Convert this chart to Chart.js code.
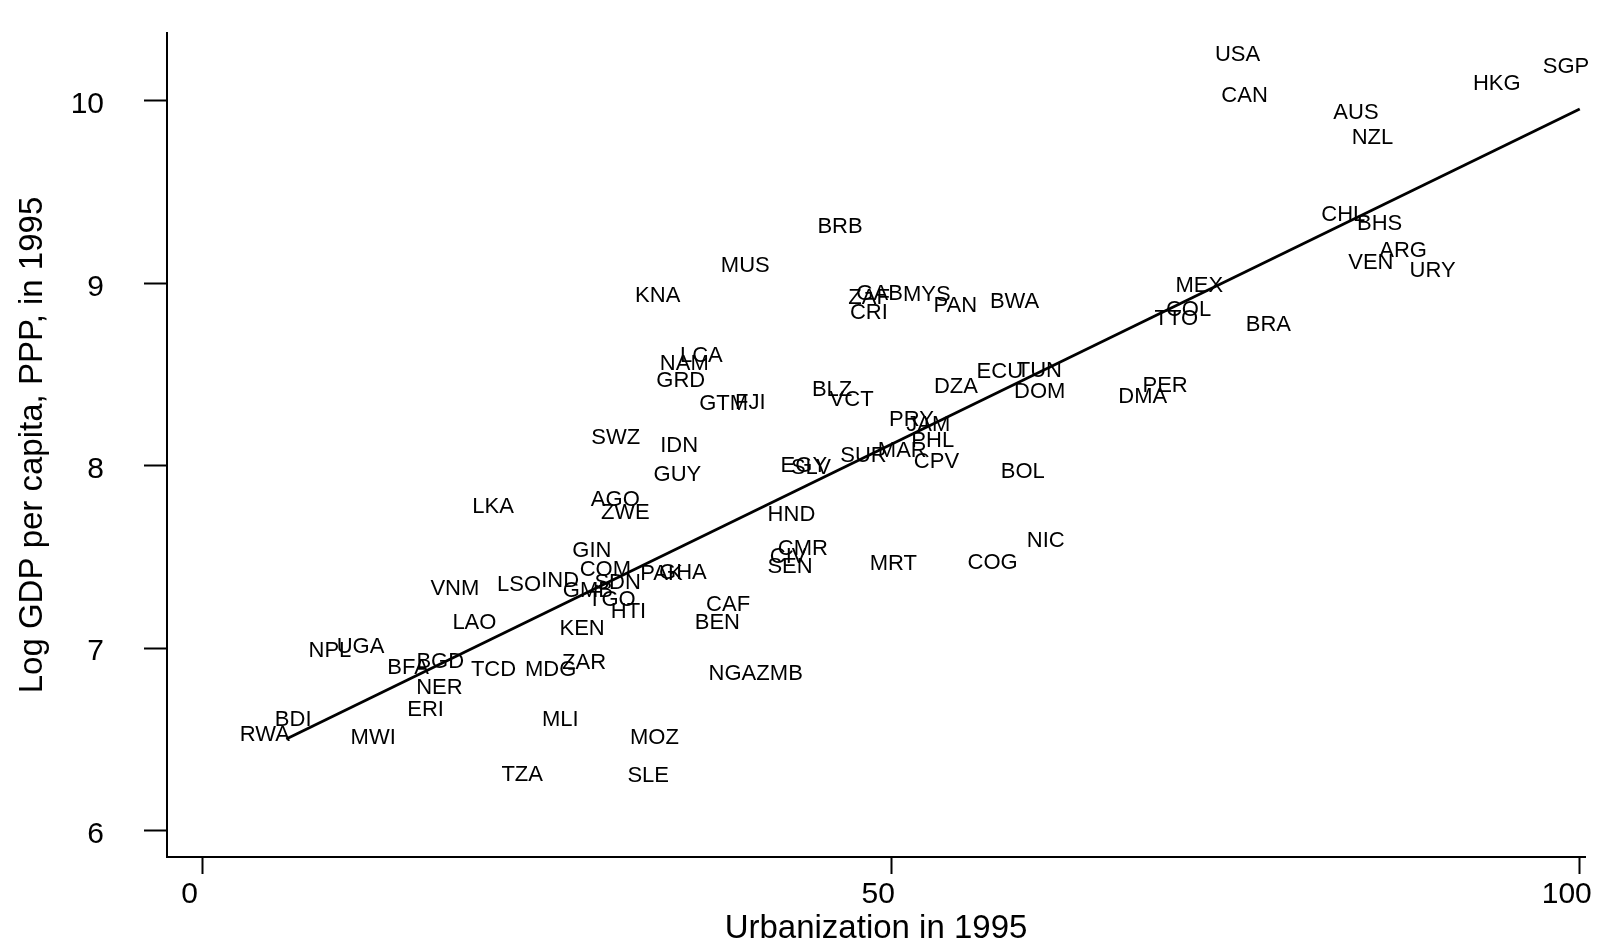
<!DOCTYPE html>
<html>
<head>
<meta charset="utf-8">
<script src="https://cdn.jsdelivr.net/npm/chart.js@4.4.1/dist/chart.umd.min.js"></script>
<style>
html,body{margin:0;padding:0;background:#fff;}
canvas{display:block;}
</style>
</head>
<body>
<canvas id="c" width="1614" height="945"></canvas>
<script>
const codes = ["USA","CAN","AUS","NZL","HKG","SGP","CHL","BHS","ARG","VEN","URY","MEX","COL","TTO","BRA",
"MYS","GAB","ZAF","CRI","PAN","BWA","DZA","ECU","TUN","DOM","PER","DMA","PRY","JAM","PHL","MAR","SUR","CPV",
"EGY","SLV","BOL","BRB","MUS","KNA","LCA","NAM","GRD","GTM","FJI","BLZ","VCT","SWZ","IDN","GUY","LKA","AGO",
"ZWE","HND","GIN","CMR","CIV","SEN","MRT","COG","NIC","COM","VNM","LSO","IND","GMB","SDN","TGO","HTI","PAK",
"GHA","CAF","BEN","KEN","LAO","NPL","UGA","BFA","BGD","TCD","MDG","ZAR","NER","ERI","BDI","RWA","MWI","MLI",
"TZA","MOZ","SLE","NGA","ZMB"];
const urbanization = [75.15,75.66,83.75,84.95,93.97,99.00,82.83,85.47,87.17,84.83,89.31,72.38,71.59,70.71,77.39,
52.59,49.16,48.40,48.38,54.66,58.96,54.70,57.89,60.76,60.79,69.89,68.27,51.47,52.70,53.02,50.81,47.99,53.29,
43.66,44.17,59.56,46.29,39.41,33.05,36.22,34.98,34.72,37.84,39.78,45.71,47.13,30.00,34.61,34.48,21.10,29.97,
30.70,42.76,28.27,43.59,42.52,42.66,50.16,57.37,61.23,29.25,18.32,22.98,25.97,27.98,30.14,29.72,30.93,33.32,
34.88,38.16,37.38,27.56,19.74,9.25,11.47,14.93,17.26,21.13,25.28,27.70,17.20,16.20,6.58,4.53,12.39,25.98,
23.21,32.81,32.36,38.47,41.90];
const logGdp = [10.254,10.026,9.935,9.795,10.092,10.185,9.374,9.327,9.175,9.112,9.069,8.984,8.855,8.807,8.769,
8.934,8.943,8.922,8.838,8.877,8.897,8.430,8.514,8.521,8.404,8.435,8.376,8.251,8.226,8.138,8.079,8.054,8.019,
7.998,7.987,7.965,9.307,9.093,8.929,8.600,8.556,8.463,8.337,8.346,8.415,8.360,8.150,8.110,7.949,7.775,7.812,
7.739,7.731,7.532,7.542,7.501,7.446,7.460,7.465,7.587,7.430,7.326,7.346,7.368,7.311,7.355,7.262,7.196,7.405,
7.410,7.238,7.136,7.103,7.136,6.986,7.008,6.891,6.922,6.878,6.878,6.917,6.780,6.662,6.607,6.524,6.505,6.607,
6.304,6.505,6.302,6.856,6.856];
const fitX = [6.08, 100];
const fitY = [6.502, 9.956];
const xTicks = [0, 50, 100];
const yTicks = [6, 7, 8, 9, 10];
const xTitle = "Urbanization in 1995";
const yTitle = "Log GDP per capita, PPP, in 1995";

const FONT = '"Liberation Sans", Arial, Helvetica, sans-serif';

const labelPlugin = {
  id: 'countryLabels',
  afterDatasetsDraw(chart) {
    const ctx = chart.ctx;
    const meta = chart.getDatasetMeta(0);
    ctx.save();
    ctx.font = '22px ' + FONT;
    ctx.fillStyle = '#000';
    ctx.textAlign = 'center';
    ctx.textBaseline = 'middle';
    meta.data.forEach((pt, i) => {
      ctx.fillText(codes[i], pt.x, pt.y);
    });
    ctx.restore();
  }
};

new Chart(document.getElementById('c'), {
  type: 'scatter',
  data: {
    datasets: [
      {
        label: 'Countries',
        data: codes.map((c, i) => ({x: urbanization[i], y: logGdp[i]})),
        pointRadius: 0,
        pointHoverRadius: 0,
        showLine: false
      },
      {
        label: 'Fitted',
        type: 'line',
        data: fitX.map((v, i) => ({x: v, y: fitY[i]})),
        borderColor: '#000',
        borderWidth: 2.8,
        pointRadius: 0,
        fill: false,
        tension: 0
      }
    ]
  },
  options: {
    responsive: false,
    devicePixelRatio: 1,
    animation: false,
    events: [],
    layout: { padding: { top: 33, right: 29, left: 0, bottom: 0 } },
    plugins: { legend: { display: false }, tooltip: { enabled: false } },
    scales: {
      x: {
        type: 'linear',
        min: -2.58,
        max: 100.38,
        afterFit: s => { s.height = 88; s.paddingLeft = 0; s.paddingRight = 0; },
        afterBuildTicks: s => { s.ticks = xTicks.map(v => ({value: v})); },
        grid: { drawOnChartArea: false, drawTicks: true, tickLength: 17, tickColor: '#000', tickWidth: 2 },
        border: { display: true, color: '#000', width: 2 },
        ticks: {
          color: '#000', font: { family: FONT, size: 30 }, padding: 3, labelOffset: -13,
          maxRotation: 0, autoSkip: false,
          callback: v => String(v)
        },
        title: { display: true, text: xTitle, color: '#000', font: { family: FONT, size: 33, lineHeight: 0.97 }, padding: { top: 0, bottom: 0 } }
      },
      y: {
        type: 'linear',
        min: 5.855,
        max: 10.372,
        afterFit: s => { s.width = 167; s.paddingTop = 0; s.paddingBottom = 0; },
        afterBuildTicks: s => { s.ticks = yTicks.map(v => ({value: v})); },
        grid: { drawOnChartArea: false, drawTicks: true, tickLength: 23, tickColor: '#000', tickWidth: 2 },
        border: { display: true, color: '#000', width: 2 },
        ticks: {
          color: '#000', font: { family: FONT, size: 30 }, padding: 40, labelOffset: 4,
          autoSkip: false,
          callback: v => String(v)
        },
        title: { display: true, text: yTitle, color: '#000', font: { family: FONT, size: 33, lineHeight: 1.15 }, padding: { top: 14, bottom: 0 } }
      }
    }
  },
  plugins: [labelPlugin]
});
</script>
</body>
</html>
